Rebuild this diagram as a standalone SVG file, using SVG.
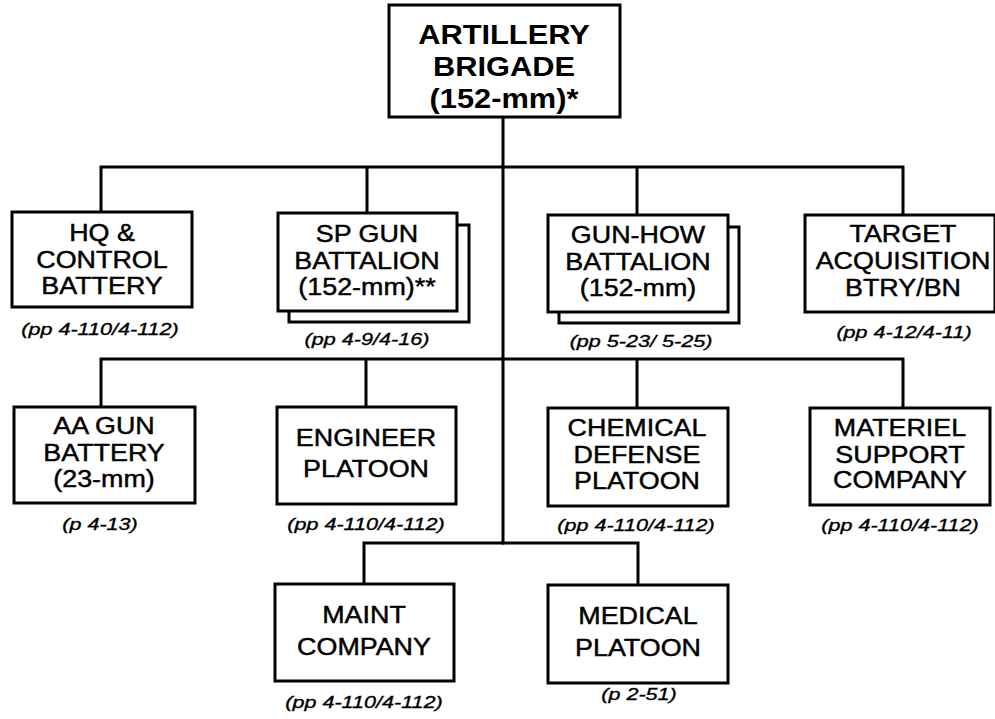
<svg xmlns="http://www.w3.org/2000/svg" width="995" height="719" viewBox="0 0 995 719">
<style>
.box{fill:#fff;stroke:#000;stroke-width:3}
.ln{fill:none;stroke:#000;stroke-width:3;stroke-linecap:square}
text{font-family:"Liberation Sans",Arial,Helvetica,sans-serif;fill:#000;text-anchor:middle}
.b{font-size:24px;stroke:#000;stroke-width:0.45}
.h{font-size:28px;font-weight:bold}
.l{font-size:17px;font-style:italic;stroke:#000;stroke-width:0.35}
</style>
<rect width="995" height="719" fill="#fff"/>
<g id="connectors">
<path class="ln" d="M503 117V543"/>
<path class="ln" d="M101 212V167H903V215M367 167V213M637 167V215"/>
<path class="ln" d="M101 407V359H903V408M366 359V407M637 359V408"/>
<path class="ln" d="M364 584V543H638V585"/>
</g>
<g id="brigade">
<rect class="box" x="389" y="5" width="231" height="112"/>
<g transform="translate(504 0) scale(1.1 1)">
<text class="h" x="0" y="44">ARTILLERY</text>
<text class="h" x="0" y="76">BRIGADE</text>
<text class="h" x="0" y="108">(152-mm)*</text>
</g>
</g>
<g id="hq">
<rect class="box" x="12" y="212" width="180" height="95"/>
<g transform="translate(102 0) scale(1.12 1)">
<text class="b" x="0" y="241">HQ &amp;</text>
<text class="b" x="0" y="268">CONTROL</text>
<text class="b" x="0" y="294">BATTERY</text>
</g>
<g transform="translate(100 0) scale(1.27 1)"><text class="l" x="0" y="335">(pp 4-110/4-112)</text></g>
</g>
<g id="spgun">
<rect class="box" x="289" y="225" width="180" height="97"/>
<rect class="box" x="278" y="213" width="179" height="98"/>
<g transform="translate(367 0) scale(1.12 1)">
<text class="b" x="0" y="242">SP GUN</text>
<text class="b" x="0" y="269">BATTALION</text>
<text class="b" x="0" y="295">(152-mm)**</text>
</g>
<g transform="translate(367 0) scale(1.27 1)"><text class="l" x="0" y="345">(pp 4-9/4-16)</text></g>
</g>
<g id="gunhow">
<rect class="box" x="559" y="227" width="180" height="96"/>
<rect class="box" x="548" y="215" width="180" height="97"/>
<g transform="translate(638 0) scale(1.12 1)">
<text class="b" x="0" y="243">GUN-HOW</text>
<text class="b" x="0" y="270">BATTALION</text>
<text class="b" x="0" y="296">(152-mm)</text>
</g>
<g transform="translate(641 0) scale(1.27 1)"><text class="l" x="0" y="347">(pp 5-23/ 5-25)</text></g>
</g>
<g id="target">
<rect class="box" x="805" y="215" width="190" height="97"/>
<g transform="translate(903 0) scale(1.12 1)">
<text class="b" x="0" y="242">TARGET</text>
<text class="b" x="0" y="269">ACQUISITION</text>
<text class="b" x="0" y="296">BTRY/BN</text>
</g>
<g transform="translate(904 0) scale(1.27 1)"><text class="l" x="0" y="338">(pp 4-12/4-11)</text></g>
</g>
<g id="aagun">
<rect class="box" x="14" y="407" width="181" height="96"/>
<g transform="translate(104 0) scale(1.12 1)">
<text class="b" x="0" y="434">AA GUN</text>
<text class="b" x="0" y="461">BATTERY</text>
<text class="b" x="0" y="487">(23-mm)</text>
</g>
<g transform="translate(100 0) scale(1.27 1)"><text class="l" x="0" y="530">(p 4-13)</text></g>
</g>
<g id="engineer">
<rect class="box" x="277" y="407" width="179" height="97"/>
<g transform="translate(366 0) scale(1.12 1)">
<text class="b" x="0" y="446">ENGINEER</text>
<text class="b" x="0" y="477">PLATOON</text>
</g>
<g transform="translate(366 0) scale(1.27 1)"><text class="l" x="0" y="530">(pp 4-110/4-112)</text></g>
</g>
<g id="chemical">
<rect class="box" x="548" y="408" width="180" height="98"/>
<g transform="translate(637 0) scale(1.12 1)">
<text class="b" x="0" y="436">CHEMICAL</text>
<text class="b" x="0" y="463">DEFENSE</text>
<text class="b" x="0" y="489">PLATOON</text>
</g>
<g transform="translate(636 0) scale(1.27 1)"><text class="l" x="0" y="531">(pp 4-110/4-112)</text></g>
</g>
<g id="materiel">
<rect class="box" x="810" y="408" width="180" height="97"/>
<g transform="translate(900 0) scale(1.12 1)">
<text class="b" x="0" y="436">MATERIEL</text>
<text class="b" x="0" y="463">SUPPORT</text>
<text class="b" x="0" y="488">COMPANY</text>
</g>
<g transform="translate(900 0) scale(1.27 1)"><text class="l" x="0" y="531">(pp 4-110/4-112)</text></g>
</g>
<g id="maint">
<rect class="box" x="275" y="584" width="179" height="97"/>
<g transform="translate(364 0) scale(1.12 1)">
<text class="b" x="0" y="623">MAINT</text>
<text class="b" x="0" y="655">COMPANY</text>
</g>
<g transform="translate(364 0) scale(1.27 1)"><text class="l" x="0" y="708">(pp 4-110/4-112)</text></g>
</g>
<g id="medical">
<rect class="box" x="548" y="585" width="180" height="98"/>
<g transform="translate(638 0) scale(1.12 1)">
<text class="b" x="0" y="624">MEDICAL</text>
<text class="b" x="0" y="656">PLATOON</text>
</g>
<g transform="translate(639 0) scale(1.27 1)"><text class="l" x="0" y="700">(p 2-51)</text></g>
</g>
</svg>
